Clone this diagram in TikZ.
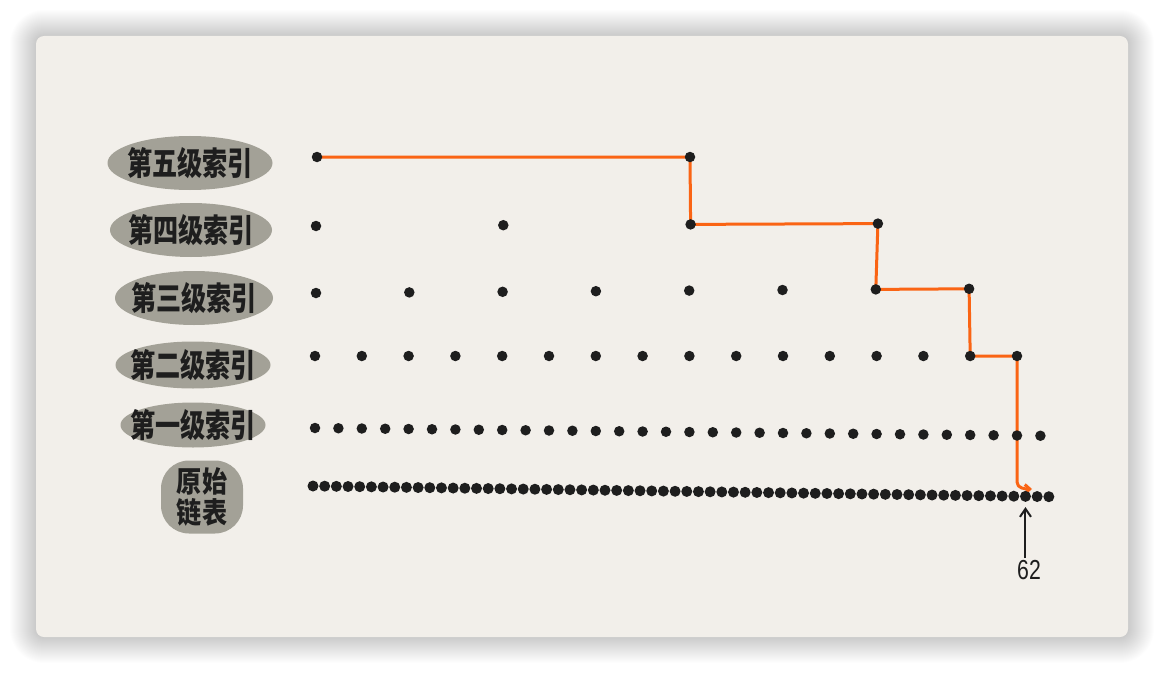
\documentclass[tikz,border=0pt]{standalone}
\usepackage{fontspec}
\setmainfont{Liberation Sans}
\newfontfamily\cjk{Noto Sans CJK SC}
\usetikzlibrary{shapes.geometric,arrows.meta}
\definecolor{paper}{HTML}{F2EFEA}
\definecolor{blobgray}{HTML}{A3A197}
\definecolor{ink}{HTML}{1E1E1E}
\definecolor{route}{HTML}{FA6414}
\pgfdeclarelayer{back}
\pgfdeclarelayer{mid}
\pgfsetlayers{back,mid,main}
\tikzset{
  dot/.style={circle,fill=ink,inner sep=0pt,minimum size=10.5pt},
  blob/.style={ellipse,fill=blobgray,inner sep=0pt},
  blobbox/.style={rectangle,fill=blobgray,inner sep=0pt,rounded corners=28pt},
  labeltext/.style={inner sep=0pt,text=ink,align=center,xscale=0.93,yscale=1.2,font=\cjk\bfseries\fontsize{27}{28}\selectfont},
  routeline/.style={draw=route,line width=3pt,line join=round,line cap=round},
  pointer/.style={draw=ink,line width=2pt,-{Straight Barb[length=8pt,width=11pt]}},
}
\begin{document}
\begin{tikzpicture}[x=1pt,y=-1pt]
\useasboundingbox (0,0) rectangle (1164,674);
\begin{pgfonlayer}{back}
  \fill[white] (0,0) rectangle (1164,674);
  \foreach \d in {1,...,26}
    \fill[black,opacity=0.0065,rounded corners={8+\d}] ({36-\d},{36-\d}) rectangle ({1128+\d},{637+\d});
  \fill[paper,rounded corners=8] (36,36) rectangle (1128,637);
\end{pgfonlayer}

% labels
\node[blob,minimum width=165pt,minimum height=54pt] (l5) at (190,163) {};
\node[labeltext] (t5) at (l5) {第五级索引};
\node[blob,minimum width=162pt,minimum height=54pt] (l4) at (191,230) {};
\node[labeltext] (t4) at (l4) {第四级索引};
\node[blob,minimum width=158pt,minimum height=54pt] (l3) at (194,298) {};
\node[labeltext] (t3) at (l3) {第三级索引};
\node[blob,minimum width=155pt,minimum height=47pt] (l2) at (193,365) {};
\node[labeltext] (t2) at (l2) {第二级索引};
\node[blob,minimum width=145pt,minimum height=45pt] (l1) at (193,425) {};
\node[labeltext] (t1) at (l1) {第一级索引};
\node[blobbox,minimum width=82pt,minimum height=73pt] (l0) at (202,497) {};
\node[labeltext,yscale=0.9] (t0) at (l0) {原始\\链表};

% dots
\foreach \i in {0,1}
  \node[dot] (d5-\i) at ({317+\i*373},157) {};
\foreach \i in {0,...,3}
  \node[dot] (d4-\i) at ({316+\i*187.3},{226-\i*0.8}) {};
\foreach \i in {0,...,7}
  \node[dot] (d3-\i) at ({316+\i*93.3},{293-\i*0.6}) {};
\foreach \i in {0,...,15}
  \node[dot] (d2-\i) at ({315+\i*46.8},356) {};
\foreach \i in {0,...,31}
  \node[dot] (d1-\i) at ({315+\i*23.4},{428+\i*0.25}) {};
\foreach \i in {0,...,63}
  \node[dot,minimum size=11pt] (d0-\i) at ({313+\i*11.68},{486+\i*0.17}) {};

% search route
\coordinate (hook) at (1017,482);
\coordinate (tipend) at (1032,489);
\begin{pgfonlayer}{mid}
\draw[routeline,-{Straight Barb[length=5pt,width=9pt]}]
  (d5-0.center) -- (d5-1.center) -- (d4-2.center) -- (d4-3.center)
  -- (d3-6.center) -- (d3-7.center) -- (d2-14.center) -- (d2-15.center)
  -- (d1-30.center) -- (hook) to[out=-90,in=180] (tipend);
\end{pgfonlayer}

% pointer to 62
\node[inner sep=0pt,text=ink,font=\fontsize{25}{25}\selectfont,xscale=0.85,yscale=1.1] (n62) at (1029,570) {62};
\draw[pointer,shorten >=5pt,shorten <=2pt] (n62.north -| d0-61) -- (d0-61.south);
\end{tikzpicture}
\end{document}
